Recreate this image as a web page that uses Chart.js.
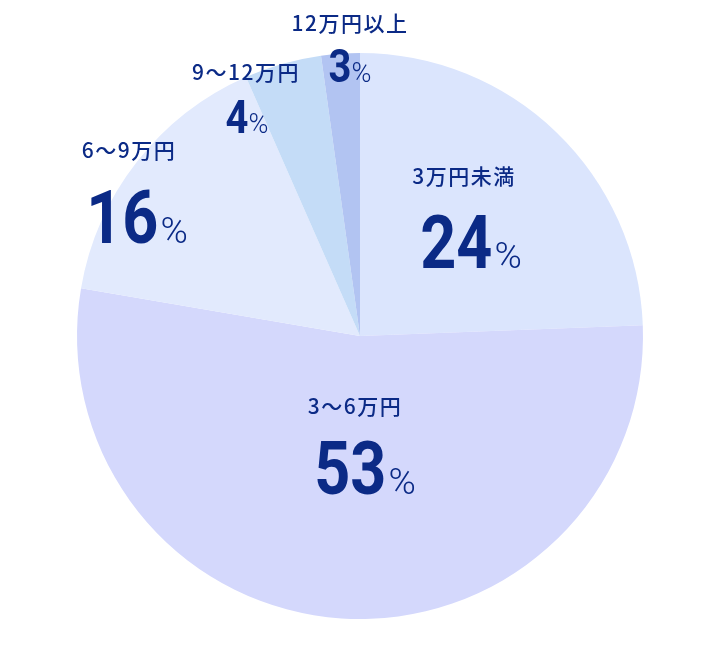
<!DOCTYPE html>
<html lang="ja">
<head>
<meta charset="utf-8">
<title>金額の分布</title>
<script src="https://cdn.jsdelivr.net/npm/chart.js@4.4.1/dist/chart.umd.min.js"></script>
<style>
  html, body { margin: 0; padding: 0; background: #ffffff; }
  #wrap { width: 702px; height: 648px; }
</style>
</head>
<body>
<div id="wrap"><canvas id="myChart" width="702" height="648"></canvas></div>
<script>
// categories, slice sizes and the printed percentages
const categories = ['3万円未満', '3〜6万円', '6〜9万円', '9〜12万円', '12万円以上'];
const shares = [24.4, 53.3, 15.7, 4.4, 2.2];
const shownPct = ['24', '53', '16', '4', '3'];

const sliceColors = ['#dbe5fd', '#d4d8fc', '#e2eafd', '#c4dcf7', '#b2c4f2'];
const textColor = '#0b2a86';

// where each label sits, px from the pie centre for a 283px radius
// [nameX, nameY, valueX, valueBaselineY, big]
const labelSpots = [
    [104, -160, 111, -68, true],
    [-5, 70, 5, 158, true],
    [-231, -186, -223, -93, true],
    [-114, -264, -113, -203, false],
    [-10, -313, -10, -254, false],
];

const pieLabels = {
    id: 'pieLabels',
    afterDatasetsDraw(chart) {
        const ctx = chart.ctx;
        const arcs = chart.getDatasetMeta(0).data;
        arcs.forEach((arc, i) => {
            const k = arc.outerRadius / 283;
            const [nx, ny, vx, vy, big] = labelSpots[i];
            ctx.save();
            ctx.fillStyle = textColor;
            ctx.textAlign = 'center';
            ctx.textBaseline = 'middle';
            ctx.letterSpacing = '1.5px';
            ctx.font = '500 21px "Noto Sans CJK JP", "Noto Sans", sans-serif';
            ctx.fillText(categories[i], arc.x + nx * k, arc.y + ny * k);
            ctx.letterSpacing = '0px';

            const numFont = big ? '700 74px Roboto, sans-serif' : '700 47px Roboto, sans-serif';
            const pctFont = big ? '300 37px Roboto, sans-serif' : '300 27px Roboto, sans-serif';
            const squeeze = 0.85;
            const gap = big ? 2 : 0;
            ctx.font = numFont;
            const numW = ctx.measureText(shownPct[i]).width * squeeze;
            ctx.font = pctFont;
            const pctW = ctx.measureText('%').width;
            const total = numW + gap + pctW;
            const left = arc.x + vx * k - total / 2;
            const base = arc.y + vy * k;
            ctx.textAlign = 'left';
            ctx.textBaseline = 'alphabetic';
            ctx.save();
            ctx.translate(left, base);
            ctx.scale(squeeze, 1);
            ctx.font = numFont;
            ctx.fillText(shownPct[i], 0, 0);
            ctx.restore();
            ctx.font = pctFont;
            ctx.fillText('%', left + numW + gap, base);
            ctx.restore();
        });
    }
};

const ctx = document.getElementById('myChart').getContext('2d');
const myChart = new Chart(ctx, {
    type: 'pie',
    data: {
        labels: categories,
        datasets: [{
            data: shares,
            backgroundColor: sliceColors,
            borderWidth: 0,
        }],
    },
    options: {
        responsive: false,
        animation: false,
        layout: {
            padding: { left: 77, right: 59, top: 53, bottom: 29 },
        },
        plugins: {
            legend: { display: false },
            tooltip: { enabled: false },
        },
    },
    plugins: [pieLabels],
});
</script>
</body>
</html>
